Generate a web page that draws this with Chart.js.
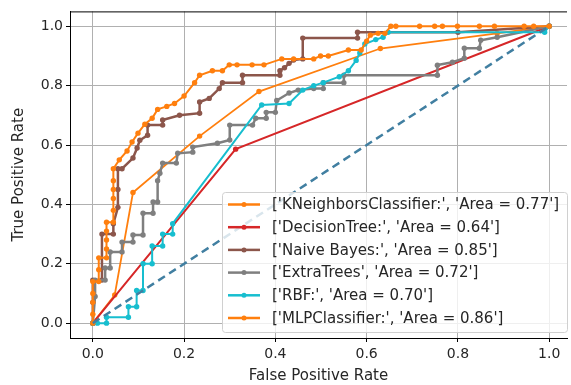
<!DOCTYPE html>
<html>
<head>
<meta charset="utf-8">
<script src="https://cdn.jsdelivr.net/npm/chart.js@4.4.1/dist/chart.umd.min.js"></script>
<style>
    html, body { margin: 0; padding: 0; background: #fff; }
    #wrap { width: 571px; height: 385px; }
</style>
</head>
<body>
<div id="wrap"><canvas id="roc_chart" width="571" height="385"></canvas></div>
<script>
// ROC curves
const tickValues = [0, 0.2, 0.4, 0.6, 0.8, 1.0];

const modelLabels = [
    "['KNeighborsClassifier:', 'Area = 0.77']",
    "['DecisionTree:', 'Area = 0.64']",
    "['Naive Bayes:', 'Area = 0.85']",
    "['ExtraTrees', 'Area = 0.72']",
    "['RBF:', 'Area = 0.70']",
    "['MLPClassifier:', 'Area = 0.86']"
];
const modelColors = ["#ff7f0e", "#d62728", "#8c564b", "#7f7f7f", "#17becf", "#ff7f0e"];

const fprKnn = [0, 0.048, 0.088, 0.234, 0.364, 0.63, 0.886, 1];
const tprKnn = [0, 0.095, 0.44, 0.63, 0.78, 0.925, 0.976, 1];

const fprTree = [0, 0.313, 1];
const tprTree = [0, 0.586, 1];

const fprBayes = [0, 0, 0, 0.02, 0.02, 0.045, 0.045, 0.055, 0.055, 0.055, 0.064, 0.088, 0.097, 0.103, 0.12, 0.12, 0.153, 0.153, 0.19, 0.234, 0.234, 0.255, 0.277, 0.284, 0.328, 0.328, 0.41, 0.41, 0.42, 0.43, 0.44, 0.46, 0.46, 0.58, 0.58, 0.8, 1];
const tprBayes = [0, 0.07, 0.145, 0.145, 0.30, 0.30, 0.335, 0.39, 0.45, 0.52, 0.52, 0.556, 0.59, 0.616, 0.633, 0.667, 0.667, 0.684, 0.70, 0.707, 0.745, 0.757, 0.79, 0.81, 0.81, 0.835, 0.835, 0.85, 0.86, 0.875, 0.886, 0.89, 0.96, 0.96, 0.98, 0.98, 1];

const fprExtra = [0, 0.005, 0.005, 0.027, 0.027, 0.038, 0.038, 0.064, 0.064, 0.088, 0.088, 0.11, 0.11, 0.132, 0.132, 0.142, 0.142, 0.147, 0.153, 0.183, 0.186, 0.219, 0.219, 0.273, 0.30, 0.30, 0.35, 0.357, 0.38, 0.38, 0.40, 0.403, 0.43, 0.45, 0.484, 0.505, 0.505, 0.55, 0.55, 0.755, 0.755, 0.788, 0.814, 0.814, 0.847, 0.85, 0.886, 1];
const tprExtra = [0, 0.09, 0.145, 0.145, 0.186, 0.186, 0.24, 0.24, 0.273, 0.273, 0.297, 0.297, 0.37, 0.37, 0.408, 0.408, 0.48, 0.505, 0.539, 0.539, 0.572, 0.576, 0.593, 0.606, 0.617, 0.667, 0.667, 0.69, 0.69, 0.71, 0.71, 0.75, 0.775, 0.785, 0.79, 0.79, 0.81, 0.81, 0.835, 0.835, 0.869, 0.879, 0.892, 0.926, 0.926, 0.953, 0.963, 1];

const fprRbf = [0, 0.01, 0.03, 0.03, 0.078, 0.078, 0.096, 0.096, 0.11, 0.11, 0.13, 0.13, 0.153, 0.153, 0.175, 0.175, 0.37, 0.43, 0.46, 0.484, 0.505, 0.54, 0.56, 0.577, 0.585, 0.596, 0.62, 0.636, 0.647, 0.99, 1];
const tprRbf = [0, 0, 0, 0.02, 0.02, 0.055, 0.055, 0.11, 0.11, 0.20, 0.20, 0.26, 0.26, 0.30, 0.30, 0.335, 0.735, 0.74, 0.785, 0.80, 0.81, 0.83, 0.85, 0.885, 0.91, 0.94, 0.955, 0.963, 0.98, 0.98, 1];

const fprMlp = [0, 0, 0, 0, 0, 0.013, 0.013, 0.013, 0.03, 0.03, 0.03, 0.03, 0.03, 0.045, 0.045, 0.045, 0.045, 0.045, 0.045, 0.058, 0.075, 0.086, 0.099, 0.114, 0.13, 0.142, 0.162, 0.179, 0.2, 0.223, 0.234, 0.262, 0.284, 0.299, 0.316, 0.349, 0.375, 0.414, 0.44, 0.484, 0.499, 0.516, 0.56, 0.588, 0.6, 0.608, 0.625, 0.64, 0.653, 0.664, 0.716, 0.749, 0.766, 0.799, 0.847, 0.88, 0.945, 0.966, 1];
const tprMlp = [0, 0.03, 0.07, 0.1, 0.14, 0.14, 0.18, 0.22, 0.22, 0.25, 0.28, 0.31, 0.34, 0.34, 0.38, 0.42, 0.45, 0.48, 0.52, 0.55, 0.58, 0.61, 0.64, 0.67, 0.69, 0.72, 0.73, 0.74, 0.765, 0.81, 0.835, 0.85, 0.85, 0.87, 0.87, 0.87, 0.87, 0.89, 0.89, 0.89, 0.90, 0.90, 0.92, 0.92, 0.95, 0.97, 0.976, 0.976, 1, 1, 1, 1, 1, 1, 1, 1, 1, 1, 1];

const chanceX = [0, 1];
const chanceY = [0, 1];

const curves = [
    [fprKnn, tprKnn, 1.8],
    [fprTree, tprTree, 2],
    [fprBayes, tprBayes, 2.5],
    [fprExtra, tprExtra, 2.5],
    [fprRbf, tprRbf, 2],
    [fprMlp, tprMlp, 2]
];

const toPoints = (xs, ys) => xs.map((x, i) => ({ x: x, y: ys[i] }));

const datasets = curves.map((c, index) => ({
    label: modelLabels[index],
    data: toPoints(c[0], c[1]),
    borderColor: modelColors[index],
    backgroundColor: modelColors[index],
    borderWidth: c[2],
    pointRadius: 2.7,
    pointBorderWidth: 0,
    showLine: true,
    order: curves.length - index
}));
datasets.push({
    label: "chance",
    data: toPoints(chanceX, chanceY),
    borderColor: "#417fa1",
    borderWidth: 2.5,
    borderDash: [8, 5],
    pointRadius: 0,
    showLine: true,
    order: 0
});

// legend drawn inside the axes, lower right, like matplotlib
const innerLegend = {
    id: "innerLegend",
    afterDraw(chart) {
        const ctx = chart.ctx;
        const x0 = 222.5, y0 = 192.5, w = 345, h = 140;
        ctx.save();
        ctx.beginPath();
        ctx.roundRect(x0, y0, w, h, 3);
        ctx.fillStyle = "rgba(255,255,255,0.8)";
        ctx.fill();
        ctx.strokeStyle = "#d0d0d0";
        ctx.lineWidth = 1;
        ctx.stroke();
        ctx.font = "15px 'DejaVu Sans'";
        ctx.textBaseline = "middle";
        modelLabels.forEach((label, i) => {
            const y = 204.5 + i * 22.7;
            ctx.strokeStyle = modelColors[i];
            ctx.lineWidth = 2.5;
            ctx.beginPath();
            ctx.moveTo(228, y);
            ctx.lineTo(260, y);
            ctx.stroke();
            ctx.fillStyle = modelColors[i];
            ctx.beginPath();
            ctx.arc(244, y, 2.5, 0, Math.PI * 2);
            ctx.fill();
            ctx.fillStyle = "#262626";
            ctx.fillText(label, 272, y + 1);
        });
        // top spine
        const a = chart.chartArea;
        ctx.strokeStyle = "#000";
        ctx.lineWidth = 1;
        ctx.beginPath();
        ctx.moveTo(a.left, a.top + 0.5);
        ctx.lineTo(a.right, a.top + 0.5);
        ctx.stroke();
        ctx.restore();
    }
};

Chart.defaults.font.family = "'DejaVu Sans', sans-serif";
Chart.defaults.font.size = 14;
Chart.defaults.color = "#262626";

const setTicks = (scale) => { scale.ticks = tickValues.map(v => ({ value: v })); };

const ctx = document.getElementById("roc_chart").getContext("2d");
const roc_chart = new Chart(ctx, {
    type: "scatter",
    data: { datasets: datasets },
    options: {
        responsive: false,
        animation: false,
        layout: { padding: { top: 11, right: 0, left: 0, bottom: 0 } },
        plugins: { legend: { display: false }, tooltip: { enabled: false } },
        scales: {
            x: {
                min: -0.05, max: 1.039,
                afterBuildTicks: setTicks,
                afterFit: (s) => { s.height = 47; },
                grid: { color: "#b0b0b0", lineWidth: 1, tickColor: "#000", tickLength: 4 },
                border: { display: true, color: "#000", width: 1 },
                ticks: { padding: 4, callback: (v) => v.toFixed(1) },
                title: { display: true, text: "False Positive Rate", font: { size: 15 }, padding: { top: 0, bottom: 0 } }
            },
            y: {
                min: -0.05, max: 1.05,
                afterBuildTicks: setTicks,
                afterFit: (s) => { s.width = 70; },
                grid: { color: "#b0b0b0", lineWidth: 1, tickColor: "#000", tickLength: 4 },
                border: { display: true, color: "#000", width: 1 },
                ticks: { padding: 3, callback: (v) => v.toFixed(1) },
                title: { display: true, text: "True Positive Rate", font: { size: 15 }, padding: { top: 10, bottom: 0 } }
            }
        }
    },
    plugins: [innerLegend]
});
</script>
</body>
</html>
